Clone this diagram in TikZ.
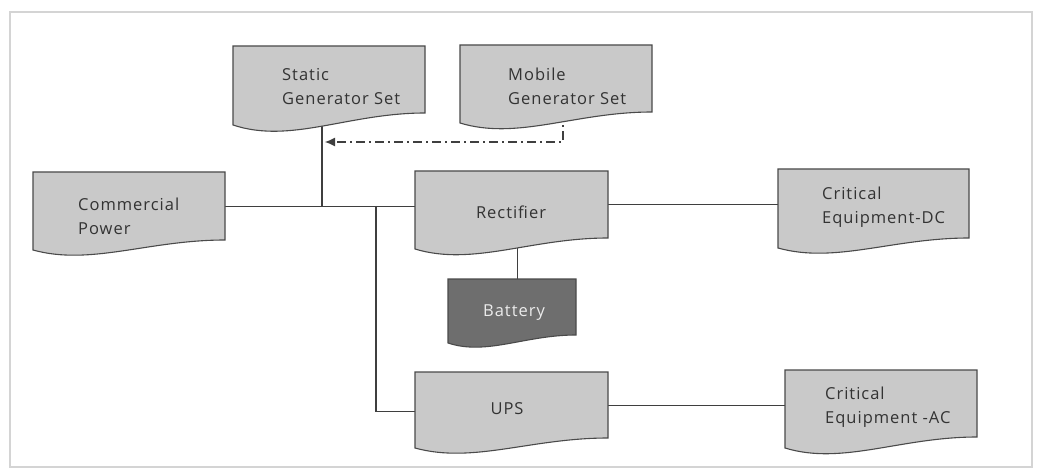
\documentclass[tikz,border=0pt]{standalone}
\usepackage{fontspec}
\newfontfamily\lblfont[LetterSpace=6]{Open Sans}
\usetikzlibrary{arrows.meta,backgrounds}
\definecolor{boxfill}{HTML}{C9C9C9}
\definecolor{boxline}{HTML}{4A4A4A}
\definecolor{batfill}{HTML}{6E6E6E}
\definecolor{txt}{HTML}{333333}
\definecolor{frame}{HTML}{D4D4D4}
\tikzset{
  docbox/.style={draw=boxline, fill=boxfill, line width=1.1pt},
  darkbox/.style={draw=boxline, fill=batfill, line width=1.1pt},
  anchorbox/.style={inner sep=0pt, draw=none},
  lbl/.style={font=\lblfont\fontsize{16.5}{24}\selectfont, text=txt, inner sep=0pt, align=left},
  wlbl/.style={font=\lblfont\fontsize{16.5}{24}\selectfont, text=white!92!black, inner sep=0pt},
  conn/.style={draw=boxline!85!black, line width=1.1pt},
  dashdot/.style={draw=boxline!85!black, line width=1.1pt, dash pattern=on 9pt off 4pt on 2pt off 4pt}
}
% #1 name, #2 left, #3 top, #4 width, #5 left height, #6 right rise, #7 style
\newcommand\docshape[7]{%
  \node[anchorbox, minimum width=#4, minimum height={#5-#6}, anchor=north west] (#1) at (#2,#3) {};
  \path[#7] (#2,#3) -- ({#2+#4},#3) -- ({#2+#4},{#3+#5-#6})
     .. controls ({#2+0.6*#4},{#3+#5-#6}) and ({#2+0.3*#4},{#3+#5+1.6*#6}) .. (#2,{#3+#5}) -- cycle;
}
\begin{document}
\begin{tikzpicture}[x=1pt,y=-1pt]
\useasboundingbox (0,0) rectangle (1040,470);
\draw[frame, line width=1.2pt] (10,12) rectangle (1032,467);

\docshape{static}{233}{46}{192}{79}{12}{docbox}
\docshape{mobile}{460}{45}{192}{78}{11}{docbox}
\docshape{com}{33}{172}{192}{78}{10}{docbox}
\docshape{rect}{415}{171}{193}{78}{11}{docbox}
\docshape{dc}{778}{169}{191}{79}{10}{docbox}
\docshape{bat}{448}{279}{128}{64}{8}{darkbox}
\docshape{ups}{415}{372}{193}{76}{10}{docbox}
\docshape{cac}{785}{370}{192}{78}{11}{docbox}

\node[lbl, anchor=west] (static-t) at (282,86.5) {Static\\Generator Set};
\node[lbl, anchor=west] (mobile-t) at (508,86.5) {Mobile\\Generator Set};
\node[lbl, anchor=west] (com-t) at (78,216) {Commercial\\Power};
\node[lbl] (rect-t) at (511,212) {Rectifier};
\node[lbl, anchor=west] (dc-t) at (822,207) {Critical\\Equipment-DC};
\node[wlbl] (bat-t) at (514,313) {Battery};
\node[lbl] (ups-t) at (507,409) {UPS};
\node[lbl, anchor=west] (cac-t) at (825,407) {Critical\\Equipment -AC};

\coordinate (j1) at (322,206);
\coordinate (j2) at (376,206);
\coordinate (m1) at (563,142);

\begin{scope}[on background layer]
  \draw[conn] (com.east) -- (com.east -| rect.west);
  \draw[conn] (j1) -- (j1 |- static.south);
  \draw[conn] (j2) |- ([yshift=-6pt]ups.west);
  \draw[conn] (rect.east) -- (rect.east -| dc.west);
  \draw[conn] ([xshift=5pt]bat.north) -- ([xshift=5pt]bat.north |- rect.south);
  \draw[conn] (ups.east) -- (ups.east -| cac.west);
  \draw[dashdot, -{Latex[length=10pt,width=9pt]}, shorten >=3pt] (mobile.south -| m1) -- (m1) -- (m1 -| j1);
\end{scope}
\end{tikzpicture}
\end{document}
